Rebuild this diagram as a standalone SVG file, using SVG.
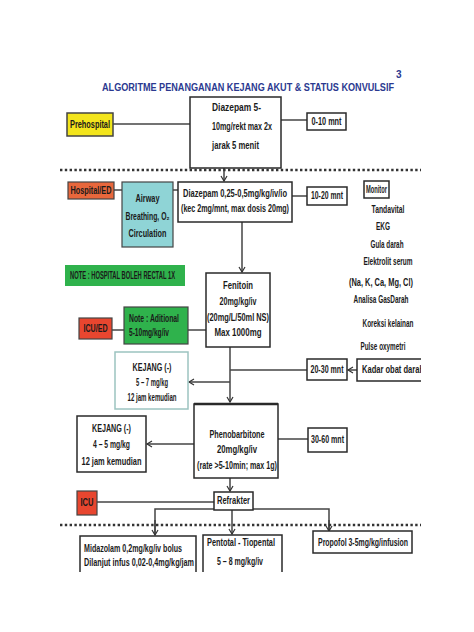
<svg xmlns="http://www.w3.org/2000/svg" width="474" height="632" viewBox="0 0 474 632">
<defs>
<style>
.box{fill:#fff;stroke:#2a2a2a;stroke-width:1.5}
.t{font-family:"Liberation Sans Narrow","Liberation Sans",Arial,sans-serif;font-weight:bold;font-size:10px;fill:#1a1a1a}
.c{text-anchor:middle}
.ln{stroke:#444;stroke-width:1.5;fill:none}
.dot{stroke:#333;stroke-width:2.5;stroke-dasharray:2.4 2.4;fill:none}
</style>
<marker id="ah" markerWidth="8" markerHeight="8" refX="6" refY="4" orient="auto" markerUnits="userSpaceOnUse">
<path d="M1,1 L6,4 L1,7" fill="none" stroke="#333" stroke-width="1.2"/>
</marker>
<clipPath id="clipR"><rect x="0" y="0" width="421" height="632"/></clipPath>
</defs>
<rect width="474" height="632" fill="#fff"/>

<text class="t" x="102" y="91" font-size="13" style="fill:#2b3990" textLength="292" lengthAdjust="spacingAndGlyphs">ALGORITME PENANGANAN  KEJANG  AKUT &amp; STATUS  KONVULSIF</text>
<text class="t" x="396" y="77.5" font-size="6.5" style="fill:#2b3990">3</text>

<g id="connectors">
<line class="ln" x1="113" y1="124" x2="190" y2="124"/>
<line class="ln" x1="281" y1="120" x2="307" y2="120"/>
<line class="ln" x1="224" y1="168" x2="224" y2="181" marker-end="url(#ah)"/>
<line class="ln" x1="114" y1="190" x2="122" y2="190"/>
<line class="ln" x1="173" y1="190" x2="178" y2="190"/>
<line class="ln" x1="292" y1="196" x2="307" y2="196"/>
<line class="ln" x1="242" y1="222" x2="242" y2="272" marker-end="url(#ah)"/>
<line class="ln" x1="112" y1="330" x2="124" y2="330"/>
<line class="ln" x1="188" y1="330" x2="206" y2="330"/>
<line class="ln" x1="230" y1="347" x2="230" y2="402" marker-end="url(#ah)"/>
<line class="ln" x1="230" y1="370" x2="307" y2="370"/>
<line class="ln" x1="230" y1="382" x2="189" y2="382" marker-end="url(#ah)"/>
<line class="ln" x1="357" y1="370" x2="348" y2="370" marker-end="url(#ah)"/>
<line class="ln" x1="278" y1="439" x2="308" y2="439"/>
<line class="ln" x1="194" y1="444" x2="147" y2="444" marker-end="url(#ah)"/>
<line class="ln" x1="230" y1="478" x2="230" y2="491" marker-end="url(#ah)"/>
<line class="ln" x1="97" y1="502" x2="214" y2="502"/>
<polyline class="ln" points="155,534 155,509 329,509 329,530"/>
<line class="ln" x1="155" y1="520" x2="155" y2="535" marker-end="url(#ah)"/>
<line class="ln" x1="232" y1="510" x2="232" y2="534" marker-end="url(#ah)"/>
<line class="ln" x1="329" y1="520" x2="329" y2="531" marker-end="url(#ah)"/>
</g>

<line class="dot" x1="60" y1="170" x2="421" y2="170"/>
<line class="dot" x1="60" y1="525" x2="421" y2="525"/>

<g id="prehospital">
<rect x="67" y="113" width="46" height="23" fill="#f3e51c" stroke="#444" stroke-width="1.5"/>
<text class="t c" x="90" y="128" textLength="40" lengthAdjust="spacingAndGlyphs">Prehospital</text>
</g>
<g id="diazepam1">
<rect class="box" x="190" y="97" width="91" height="71"/>
<text class="t" x="212" y="111" textLength="49" lengthAdjust="spacingAndGlyphs">Diazepam 5-</text>
<text class="t" x="212" y="130" textLength="60" lengthAdjust="spacingAndGlyphs">10mg/rekt max 2x</text>
<text class="t" x="212" y="149" textLength="47" lengthAdjust="spacingAndGlyphs">jarak 5 menit</text>
</g>
<g id="t0-10">
<rect class="box" x="307" y="113" width="39" height="17"/>
<text class="t c" x="326.5" y="125" textLength="30" lengthAdjust="spacingAndGlyphs">0-10 mnt</text>
</g>

<g id="hospital">
<rect x="68" y="182" width="46" height="17" fill="#e8673c" stroke="#444" stroke-width="1.2"/>
<text class="t c" x="91" y="194" textLength="41" lengthAdjust="spacingAndGlyphs">Hospital/ED</text>
</g>
<g id="airway">
<rect x="122" y="182" width="51" height="65" fill="#8fd4d6" stroke="#444" stroke-width="1.2"/>
<text class="t c" x="147.5" y="202" textLength="24" lengthAdjust="spacingAndGlyphs">Airway</text>
<text class="t c" x="147.5" y="220" textLength="44" lengthAdjust="spacingAndGlyphs">Breathing, O₂</text>
<text class="t c" x="147.5" y="237" textLength="38" lengthAdjust="spacingAndGlyphs">Circulation</text>
</g>
<g id="diazepam2">
<rect class="box" x="178" y="182" width="114" height="40"/>
<text class="t" x="183" y="197" font-size="8.3" textLength="104" lengthAdjust="spacingAndGlyphs">Diazepam 0,25-0,5mg/kg/iv/io</text>
<text class="t" x="181" y="212" font-size="8.3" textLength="108" lengthAdjust="spacingAndGlyphs">(kec 2mg/mnt, max dosis 20mg)</text>
</g>
<g id="t10-20">
<rect class="box" x="307" y="187" width="40" height="18"/>
<text class="t c" x="327" y="199" textLength="32" lengthAdjust="spacingAndGlyphs">10-20 mnt</text>
</g>
<g id="monitor">
<rect class="box" x="364" y="181" width="25" height="17" stroke-width="2"/>
<text class="t c" x="376.5" y="193" textLength="21" lengthAdjust="spacingAndGlyphs">Monitor</text>
<text class="t c" x="388" y="213" textLength="33" lengthAdjust="spacingAndGlyphs">Tandavital</text>
<text class="t c" x="383" y="230" textLength="14" lengthAdjust="spacingAndGlyphs">EKG</text>
<text class="t c" x="387" y="248" textLength="33" lengthAdjust="spacingAndGlyphs">Gula darah</text>
<text class="t c" x="388" y="265" textLength="49" lengthAdjust="spacingAndGlyphs">Elektrolit serum</text>
<text class="t c" x="381" y="286" textLength="64" lengthAdjust="spacingAndGlyphs">(Na, K, Ca, Mg, Cl)</text>
<text class="t c" x="381" y="303" textLength="55" lengthAdjust="spacingAndGlyphs">Analisa GasDarah</text>
<text class="t c" x="388" y="327" textLength="51" lengthAdjust="spacingAndGlyphs">Koreksi kelainan</text>
<text class="t c" x="383" y="350" font-size="11" textLength="45" lengthAdjust="spacingAndGlyphs">Pulse oxymetri</text>
</g>

<g id="note-hospital">
<rect x="65" y="265" width="120" height="21" fill="#2fb24c"/>
<text class="t" x="70" y="279" font-size="8" textLength="105" lengthAdjust="spacingAndGlyphs">NOTE : HOSPITAL  BOLEH RECTAL  1X</text>
</g>
<g id="fenitoin">
<rect class="box" x="206" y="273" width="64" height="74"/>
<text class="t c" x="238" y="289" textLength="30" lengthAdjust="spacingAndGlyphs">Fenitoin</text>
<text class="t c" x="238" y="305" textLength="37" lengthAdjust="spacingAndGlyphs">20mg/kg/iv</text>
<text class="t c" x="238" y="321" textLength="62" lengthAdjust="spacingAndGlyphs">(20mg/L/50ml NS)</text>
<text class="t c" x="238" y="336" textLength="47" lengthAdjust="spacingAndGlyphs">Max 1000mg</text>
</g>
<g id="icued">
<rect x="79" y="318" width="33" height="21" fill="#e8462f" stroke="#444" stroke-width="1.2"/>
<text class="t c" x="95.5" y="332" textLength="24" lengthAdjust="spacingAndGlyphs">ICU/ED</text>
</g>
<g id="note-aditional">
<rect x="124" y="307" width="64" height="37" fill="#2fb24c" stroke="#444" stroke-width="1.2"/>
<text class="t" x="129" y="322" textLength="50" lengthAdjust="spacingAndGlyphs">Note : Aditional</text>
<text class="t" x="129" y="336" textLength="40" lengthAdjust="spacingAndGlyphs">5-10mg/kg/iv</text>
</g>

<g id="kejang1">
<rect x="115" y="352" width="73" height="57" fill="#fff" stroke="#9cc3c0" stroke-width="1.5"/>
<text class="t c" x="152" y="371" textLength="39" lengthAdjust="spacingAndGlyphs">KEJANG (-)</text>
<text class="t c" x="152" y="386" textLength="32" lengthAdjust="spacingAndGlyphs">5 – 7 mg/kg</text>
<text class="t c" x="152" y="401" textLength="49" lengthAdjust="spacingAndGlyphs">12 jam kemudian</text>
</g>
<g id="t20-30">
<rect class="box" x="307" y="359" width="40" height="21" stroke-width="2"/>
<text class="t c" x="327" y="373" textLength="33" lengthAdjust="spacingAndGlyphs">20-30 mnt</text>
</g>
<g id="kadar" clip-path="url(#clipR)">
<path d="M424,359 H357 V381 H424" fill="none" stroke="#2a2a2a" stroke-width="1.5"/>
<text class="t" x="362" y="373" textLength="62" lengthAdjust="spacingAndGlyphs">Kadar obat darah</text>
</g>

<g id="phenobarbitone">
<rect class="box" x="194" y="404" width="84" height="74"/>
<line x1="194" y1="404" x2="278" y2="404" stroke="#2a2a2a" stroke-width="2.5"/>
<text class="t c" x="237" y="438" textLength="55" lengthAdjust="spacingAndGlyphs">Phenobarbitone</text>
<text class="t c" x="237" y="453" textLength="40" lengthAdjust="spacingAndGlyphs">20mg/kg/iv</text>
<text class="t c" x="237" y="469" textLength="80" lengthAdjust="spacingAndGlyphs">(rate &gt;5-10min; max 1g)</text>
</g>
<g id="kejang2">
<rect class="box" x="77" y="416" width="69" height="56"/>
<text class="t c" x="111.5" y="432" textLength="39" lengthAdjust="spacingAndGlyphs">KEJANG (-)</text>
<text class="t c" x="111.5" y="448" textLength="37" lengthAdjust="spacingAndGlyphs">4 – 5 mg/kg</text>
<text class="t c" x="111.5" y="465" textLength="60" lengthAdjust="spacingAndGlyphs">12 jam kemudian</text>
</g>
<g id="t30-60">
<rect class="box" x="308" y="428" width="39" height="24" stroke-width="2"/>
<text class="t c" x="327.5" y="443" textLength="33" lengthAdjust="spacingAndGlyphs">30-60 mnt</text>
</g>

<g id="icu">
<rect x="77" y="491" width="20" height="24" fill="#e8462f" stroke="#444" stroke-width="1.2"/>
<text class="t c" x="87" y="506" textLength="13" lengthAdjust="spacingAndGlyphs">ICU</text>
</g>
<g id="refrakter">
<rect class="box" x="214" y="492" width="39" height="18"/>
<text class="t c" x="233.5" y="504" textLength="33" lengthAdjust="spacingAndGlyphs">Refrakter</text>
</g>

<g id="midazolam">
<path d="M80,572 V536 H196 V572" fill="#fff" stroke="#2a2a2a" stroke-width="1.5"/>
<text class="t" x="84" y="552" font-size="9" textLength="98" lengthAdjust="spacingAndGlyphs">Midazolam 0,2mg/kg/iv bolus</text>
<text class="t" x="84" y="566" font-size="8" textLength="110" lengthAdjust="spacingAndGlyphs">Dilanjut infus 0,02-0,4mg/kg/jam</text>
</g>
<g id="pentotal">
<path d="M203,572 V535 H282 V572" fill="#fff" stroke="#2a2a2a" stroke-width="1.5"/>
<text class="t" x="207" y="546" textLength="68" lengthAdjust="spacingAndGlyphs">Pentotal - Tiopental</text>
<text class="t" x="217" y="565" textLength="46" lengthAdjust="spacingAndGlyphs">5 – 8 mg/kg/iv</text>
</g>
<g id="propofol">
<rect class="box" x="313" y="531" width="99" height="22"/>
<text class="t" x="318" y="546" textLength="90" lengthAdjust="spacingAndGlyphs">Propofol 3-5mg/kg/infusion</text>
</g>
</svg>
